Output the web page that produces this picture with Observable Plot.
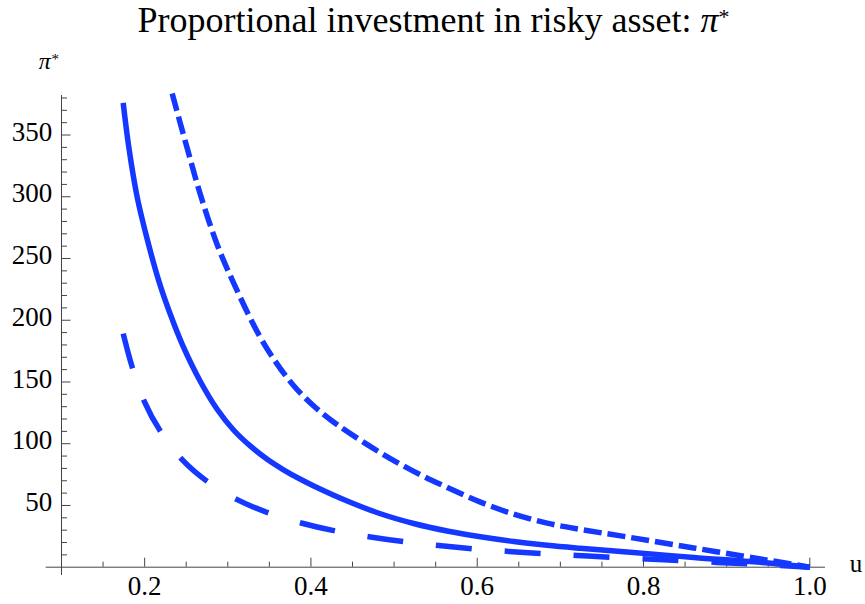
<!DOCTYPE html>
<html>
<head>
<meta charset="utf-8">
<script src="https://cdn.jsdelivr.net/npm/d3@7"></script>
<script src="https://cdn.jsdelivr.net/npm/@observablehq/plot@0.6"></script>
<style>
  body { margin: 0; background: #fff; width: 865px; height: 604px; overflow: hidden; font-family: "Liberation Serif", "Times New Roman", serif; }
  #title { position: absolute; left: 0; top: 0; width: 867px; text-align: center; font-size: 36px; line-height: 40px; white-space: nowrap; color: #000; }
  #title .star { position: relative; top: -8px; font-size: 22px; }
  #chart { position: absolute; left: 0; top: 45px; }
  #chart svg text { font-family: "Liberation Serif", "Times New Roman", serif; }
</style>
</head>
<body>
<div id="title">Proportional investment in risky asset: <i>π</i><span class="star">*</span></div>
<div id="chart"></div>
<script>
// ---- data ----
const uSolid  = [0.1742, 0.1809, 0.1910, 0.2031, 0.2170, 0.2311, 0.2455, 0.2672, 0.2872, 0.3072, 0.3273, 0.3474, 0.3670, 0.3874, 0.4034, 0.4436, 0.4836, 0.5236, 0.5638, 0.6039, 0.6439, 0.6841, 0.7241, 0.7803, 0.8604, 0.9406, 1.0];
const piSolid = [376.0, 340.4, 299.8, 265.6, 231.9, 204.4, 180.1, 150.2, 127.9, 110.9, 98.0, 87.4, 78.9, 71.2, 65.8, 53.6, 43.3, 35.4, 29.3, 24.6, 20.8, 17.7, 15.3, 12.3, 7.9, 3.9, 0];

const uShort  = [0.2331, 0.2512, 0.2672, 0.2872, 0.3072, 0.3373, 0.3594, 0.3793, 0.4034, 0.4235, 0.4436, 0.4836, 0.5236, 0.5638, 0.6039, 0.6439, 0.6841, 0.7241, 0.7803, 0.8604, 0.9406, 1.0];
const piShort = [383.6, 339.2, 301.4, 261.3, 229.9, 188.3, 164.5, 147.0, 130.5, 119.4, 109.9, 92.7, 77.6, 64.6, 52.7, 43.0, 35.7, 30.6, 24.5, 15.6, 6.7, 0];

const uLong   = [0.1742, 0.1850, 0.1990, 0.2190, 0.2451, 0.2752, 0.3113, 0.3493, 0.3894, 0.4295, 0.4716, 0.5137, 0.5537, 0.5958, 0.6379, 0.6800, 0.7201, 0.7602, 0.8043, 0.8443, 0.8885, 0.9285, 1.0];
const piLong  = [189.1, 162.1, 135.1, 110.0, 87.1, 69.5, 54.7, 43.9, 35.6, 29.3, 24.5, 20.5, 17.5, 14.9, 12.8, 11.0, 9.5, 8.0, 6.6, 5.3, 3.9, 2.7, 0];

const xMajor = [0.2, 0.4, 0.6, 0.8, 1.0];
const xMinor = [0.15, 0.25, 0.3, 0.35, 0.45, 0.5, 0.55, 0.65, 0.7, 0.75, 0.85, 0.9, 0.95];
const yMajor = [50, 100, 150, 200, 250, 300, 350];
const yMinor = [10, 20, 30, 40, 60, 70, 80, 90, 110, 120, 130, 140, 160, 170, 180, 190, 210, 220, 230, 240, 260, 270, 280, 290, 310, 320, 330, 340, 360, 370, 380];

// ---- build rows ----
const rows = (us, ps) => us.map((u, i) => ({u, pi: ps[i]}));
const solid = rows(uSolid, piSolid);
const shortDash = rows(uShort, piShort);
const longDash = rows(uLong, piLong);

// ---- layout ----
const W = 865, H = 559, mL = 61, mR = 55.7, mT = 50, mB = 37.3;
const frameW = W - mL - mR, frameH = H - mT - mB;
const font = '"Liberation Serif", "Times New Roman", serif';
const blue = "#1438ff";
const axisColor = "#444";
const lw = 5.5;

const chart = Plot.plot({
  width: W, height: H,
  marginLeft: mL, marginRight: mR, marginTop: mT, marginBottom: mB,
  style: `font-family: ${font}; font-size: 27px; background: white; color: #000; overflow: visible;`,
  x: {domain: [0.1, 1.0]},
  y: {domain: [0, 382]},
  marks: [
    Plot.ruleY([0], {stroke: axisColor, strokeWidth: 1, insetLeft: -15.3, insetRight: -15.7}),
    Plot.ruleX([0.1], {stroke: axisColor, strokeWidth: 1, insetBottom: -8.3}),
    Plot.ruleX(xMinor, {x: d => d, stroke: axisColor, strokeWidth: 1, insetTop: frameH - 5}),
    Plot.ruleX(xMajor, {x: d => d, stroke: axisColor, strokeWidth: 1, insetTop: frameH - 9}),
    Plot.ruleY(yMinor, {y: d => d, stroke: axisColor, strokeWidth: 1, insetRight: frameW - 6}),
    Plot.ruleY(yMajor, {y: d => d, stroke: axisColor, strokeWidth: 1, insetRight: frameW - 9.5}),
    Plot.axisX({ticks: xMajor, tickSize: 0, tickPadding: 8.4, tickFormat: d => d.toFixed(1), label: null, fontSize: 27, fontFamily: font}),
    Plot.axisY({ticks: yMajor, tickSize: 0, tickPadding: 9.3, label: null, fontSize: 27, fontFamily: font, dy: -3}),
    Plot.line(solid, {x: "u", y: "pi", stroke: blue, strokeWidth: lw, curve: "catmull-rom", strokeLinecap: "butt"}),
    Plot.line(shortDash, {x: "u", y: "pi", stroke: blue, strokeWidth: lw, curve: "catmull-rom", strokeLinecap: "butt", strokeDasharray: "18,6"}),
    Plot.line(longDash, {x: "u", y: "pi", stroke: blue, strokeWidth: lw, curve: "catmull-rom", strokeLinecap: "butt", strokeDasharray: "36,33"}),
    Plot.text(["π"], {text: d => d, frameAnchor: "top-left", dx: -22.7, dy: -26.7, lineAnchor: "bottom", textAnchor: "start", fontStyle: "italic", fontSize: 24, fontFamily: font, fill: "#000"}),
    Plot.text(["*"], {text: d => d, frameAnchor: "top-left", dx: -10, dy: -32, lineAnchor: "bottom", textAnchor: "start", fontSize: 15, fontFamily: font, fill: "#000"}),
    Plot.text(["u"], {text: d => d, frameAnchor: "bottom-right", dx: 40, dy: 5, lineAnchor: "bottom", textAnchor: "start", fontSize: 25, fontFamily: font, fill: "#000"})
  ]
});
document.getElementById("chart").appendChild(chart);
</script>
</body>
</html>
